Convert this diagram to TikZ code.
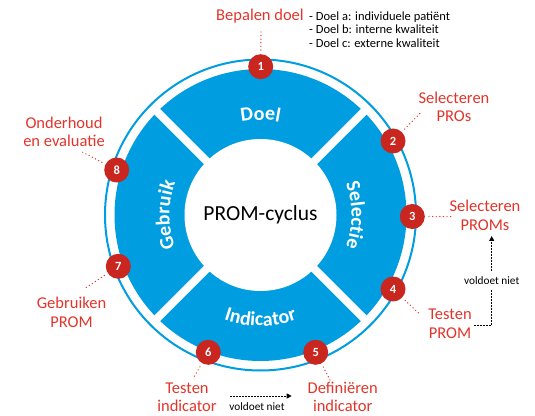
\documentclass[tikz,border=0pt]{standalone}
\usepackage{fontspec}
\setmainfont{Carlito}
\usetikzlibrary{decorations.text,arrows.meta,calc}
\definecolor{pblue}{RGB}{0,157,224}
\definecolor{pred}{RGB}{200,38,30}
\definecolor{ptext}{RGB}{226,52,42}
\newcommand\wtxt{\bfseries\fontsize{20}{20}\selectfont}
\begin{document}
\begin{tikzpicture}[x=1pt,y=1pt,
  num/.style={circle, fill=pred, minimum size=25pt, inner sep=0pt, text=white, font=\bfseries\fontsize{12.5}{12.5}\selectfont},
  lbl/.style={text=ptext, align=center, font=\fontsize{16.5}{18.3}\selectfont, inner sep=0pt},
  rdots/.style={draw=ptext, line width=1.4pt, line cap=round, dash pattern=on 0pt off 3.6pt, shorten <=4pt},
  fb/.style={draw=black, line width=0.9pt, dash pattern=on 1.6pt off 1.4pt, -{Triangle[length=5pt,width=5pt]}},
  small/.style={font=\fontsize{11.3}{12}\selectfont, inner xsep=1pt, inner ysep=5pt},
  seglbl/.style={decorate, decoration={text along path, text align=center, text color=white, text={|\wtxt|#1}}}
]
\useasboundingbox (0,0) rectangle (535,415);
\coordinate (c) at (260.5,200);
% ring and band
\draw[pblue, line width=2pt] (c) circle[radius=155.5];
\fill[pblue] (c) circle[radius=146];
\foreach \a in {45,135,225,315} \draw[white, line width=8pt] (c) -- ++(\a:150);
\fill[white] (c) circle[radius=76];
\node[font=\fontsize{21.5}{21.5}\selectfont] (title) at (c) {PROM-cyclus};
% segment labels
\path[seglbl=Doel] ($(c)+(135:95)$) arc[start angle=135, end angle=45, radius=95];
\path[seglbl=Selectie] ($(c)+(45:91)$) arc[start angle=45, end angle=-45, radius=91];
\path[seglbl=Gebruik] ($(c)+(225:91)$) arc[start angle=225, end angle=135, radius=91];
\path[seglbl=Indicator] ($(c)+(225:111)$) arc[start angle=225, end angle=315, radius=111];
% numbered circles
\node[num] (n1) at (260.7,348.3) {1};
\node[num] (n2) at (393,274) {2};
\node[num] (n3) at (412.3,198.5) {3};
\node[num] (n4) at (393,126) {4};
\node[num] (n5) at (315.7,62.7) {5};
\node[num] (n6) at (208.3,62.7) {6};
\node[num] (n7) at (118.3,148.7) {7};
\node[num] (n8) at (116.7,245) {8};
% labels
\node[lbl] (l1) at (260,398.5) {Bepalen doel};
\node[anchor=west, align=left, inner sep=0pt, font=\fontsize{12.5}{13.5}\selectfont] (list) at (309,385.5) {- Doel a: individuele patiënt\\- Doel b: interne kwaliteit\\- Doel c: externe kwaliteit};
\node[lbl] (l8) at (64,283.5) {Onderhoud\\en evaluatie};
\node[lbl] (l2) at (454,308.3) {Selecteren\\PROs};
\node[lbl] (l3) at (485,199.8) {Selecteren\\PROMs};
\node[lbl] (l4) at (450,91.1) {Testen\\PROM};
\node[lbl] (l5) at (342.7,17.8) {Definiëren\\indicator};
\node[lbl] (l6) at (187,17.8) {Testen\\indicator};
\node[lbl] (l7) at (71.5,102.8) {Gebruiken\\PROM};
% dotted connectors
\coordinate (e1) at (261,385);
\coordinate (e2) at (421.7,303.3);
\coordinate (e3) at (453.3,198.5);
\coordinate (e4) at (420.7,100);
\coordinate (e5) at (330,35);
\coordinate (e6) at (193.3,36.7);
\coordinate (e7) at (85,126.7);
\coordinate (e8) at (81.7,263.3);
\foreach \i in {1,...,8} \draw[rdots] (n\i) -- (e\i);
% feedback arrows
\coordinate (f1a) at (474,90);
\coordinate (f1b) at (491.7,179);
\draw[fb] (f1a) -| node[pos=0.75, fill=white, small] (v1) {voldoet niet} (f1b);
\coordinate (f2a) at (230,19);
\coordinate (f2b) at (291.7,19);
\draw[fb] (f2a) -- (f2b);
\node[small, inner ysep=1pt] (v2) at (257,8.3) {voldoet niet};
\end{tikzpicture}
\end{document}
